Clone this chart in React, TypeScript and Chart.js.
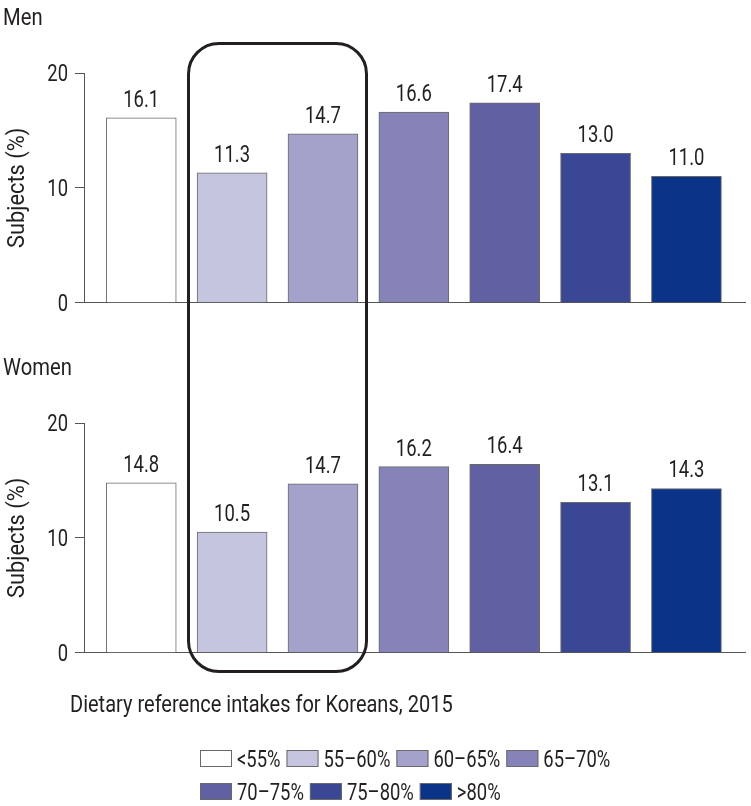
import React, { useEffect, useRef } from "react";
import { Chart, registerables } from "chart.js";
Chart.register(...registerables);

const categories = ["<55%", "55–60%", "60–65%", "65–70%", "70–75%", "75–80%", ">80%"];
const menValues = [16.1, 11.3, 14.7, 16.6, 17.4, 13.0, 11.0];
const womenValues = [14.8, 10.5, 14.7, 16.2, 16.4, 13.1, 14.3];
const barColors = ["#ffffff", "#c6c5df", "#a4a2cb", "#8583b8", "#6060a2", "#3a4795", "#0b3387"];
const yTicks = [0, 10, 20];
const highlightRange = [0.5, 2.5];
const panelTitles = ["Men", "Women"];
const xAxisTitle = "Dietary reference intakes for Koreans, 2015";
const yAxisTitle = "Subjects (%)";
const legendRows = [categories.slice(0, 4), categories.slice(4)];

const FONT = "Roboto, 'Liberation Sans', sans-serif";
const TEXT = "#231f20";

function drawText(ctx: any, text: string, x: number, y: number, align: string, sx: number, size: number, rot = 0) {
  ctx.save();
  ctx.translate(x, y);
  if (rot) ctx.rotate(rot);
  ctx.scale(sx, 1);
  ctx.font = `${size}px ${FONT}`;
  ctx.fillStyle = TEXT;
  ctx.textAlign = align;
  ctx.textBaseline = "alphabetic";
  ctx.fillText(text, 0, 0);
  ctx.restore();
}

const textPlugin = {
  id: "textPlugin",
  afterDraw(chart: any, _args: any, opts: any) {
    const ctx = chart.ctx;
    const meta = chart.getDatasetMeta(0);
    const ds = chart.data.datasets[0];
    // value labels
    meta.data.forEach((bar: any, i: number) => {
      drawText(ctx, ds.data[i].y.toFixed(1), bar.x, bar.y - 11, "center", 0.77, 24);
    });
    // y tick labels
    const ys = chart.scales.y;
    ys.ticks.forEach((t: any) => {
      drawText(ctx, String(t.value), ys.right - 16, ys.getPixelForValue(t.value) + 8.3, "right", 0.8, 23);
    });
    // y title
    const cy = (chart.chartArea.top + chart.chartArea.bottom) / 2;
    drawText(ctx, yAxisTitle, 23.5, cy, "center", 0.95, 23, -Math.PI / 2);
    // panel title
    drawText(ctx, opts.title, 3, opts.titleBaseline, "left", 0.88, 23);
    if (opts.footer) {
      const off = opts.offsetY;
      drawText(ctx, xAxisTitle, 70, 712 - off, "left", 0.87, 23);
      const rowCenters = [758.5 - off, 791.5 - off];
      legendRows.forEach((row, ri) => {
        let x = 200;
        const cy2 = rowCenters[ri];
        row.forEach((label) => {
          const idx = categories.indexOf(label);
          ctx.save();
          ctx.fillStyle = barColors[idx];
          ctx.fillRect(x, cy2 - 8.5, 32, 17);
          ctx.strokeStyle = "#6a6a6a";
          ctx.lineWidth = 1;
          ctx.strokeRect(x + 0.5, cy2 - 8, 31, 16);
          ctx.restore();
          const tx = x + 37;
          drawText(ctx, label, tx, cy2 + 8.2, "left", 0.8, 23);
          ctx.save();
          ctx.font = `23px ${FONT}`;
          const w = ctx.measureText(label).width * 0.8;
          ctx.restore();
          x = tx + w + 6;
        });
      });
    }
  },
};

function makeConfig(values: number[], padTop: number, padBottom: number, pluginOpts: any): any {
  return {
    type: "bar",
    data: {
      datasets: [
        {
          data: values.map((v, i) => ({ x: i, y: v })),
          backgroundColor: barColors,
          borderColor: "#6a6a6a",
          borderWidth: 1,
          barThickness: 70,
        },
      ],
    },
    options: {
      animation: false,
      responsive: false,
      maintainAspectRatio: false,
      layout: { padding: { top: padTop, bottom: padBottom, left: 0, right: 5.5 } },
      plugins: { legend: { display: false }, tooltip: { enabled: false }, textPlugin: pluginOpts },
      scales: {
        x: {
          type: "linear",
          offset: false,
          min: -0.63,
          max: 6.65,
          ticks: { display: false },
          grid: { display: false, offset: false },
          border: { display: true, color: "#555", width: 1 },
          afterFit: (s: any) => {
            s.height = 0;
          },
        },
        y: {
          min: 0,
          max: 20,
          afterBuildTicks: (s: any) => {
            s.ticks = yTicks.map((v) => ({ value: v }));
          },
          ticks: { display: false },
          grid: { drawOnChartArea: false, drawTicks: true, tickLength: 9, color: "#555" },
          border: { display: true, color: "#555", width: 1 },
          afterFit: (s: any) => {
            s.width = 84;
          },
        },
      },
    },
    plugins: [textPlugin],
  };
}

export default function App() {
  const menRef = useRef<HTMLCanvasElement>(null);
  const womenRef = useRef<HTMLCanvasElement>(null);
  const boxRef = useRef<HTMLDivElement>(null);

  const MEN_TOP = 0;
  const WOMEN_TOP = 340;
  const WOMEN_H = 466;

  useEffect(() => {
    const men = new Chart(
      menRef.current!,
      makeConfig(menValues, 73, 17.3, { title: panelTitles[0], titleBaseline: 25, footer: false, offsetY: 0 })
    );
    const women = new Chart(
      womenRef.current!,
      makeConfig(womenValues, 83, WOMEN_H - (652.7 - WOMEN_TOP), {
        title: panelTitles[1],
        titleBaseline: 375 - WOMEN_TOP,
        footer: true,
        offsetY: WOMEN_TOP,
      })
    );
    const box = boxRef.current!;
    const left = men.scales.x.getPixelForValue(highlightRange[0]);
    const right = men.scales.x.getPixelForValue(highlightRange[1]);
    const top = MEN_TOP + men.scales.y.getPixelForValue(22.7);
    const bottom = WOMEN_TOP + women.scales.y.getPixelForValue(-1.75);
    box.style.left = `${left}px`;
    box.style.top = `${top}px`;
    box.style.width = `${right - left}px`;
    box.style.height = `${bottom - top}px`;
    return () => {
      men.destroy();
      women.destroy();
    };
  }, []);

  return (
    <div style={{ position: "absolute", left: 0, top: 0, width: 751, height: 806, background: "#fff", overflow: "hidden" }}>
      <canvas ref={menRef} width={751} height={320} style={{ position: "absolute", left: 0, top: MEN_TOP }} />
      <canvas ref={womenRef} width={751} height={WOMEN_H} style={{ position: "absolute", left: 0, top: WOMEN_TOP }} />
      <div
        ref={boxRef}
        style={{
          position: "absolute",
          boxSizing: "border-box",
          border: "3px solid #231f20",
          borderRadius: 32,
          pointerEvents: "none",
        }}
      />
    </div>
  );
}
